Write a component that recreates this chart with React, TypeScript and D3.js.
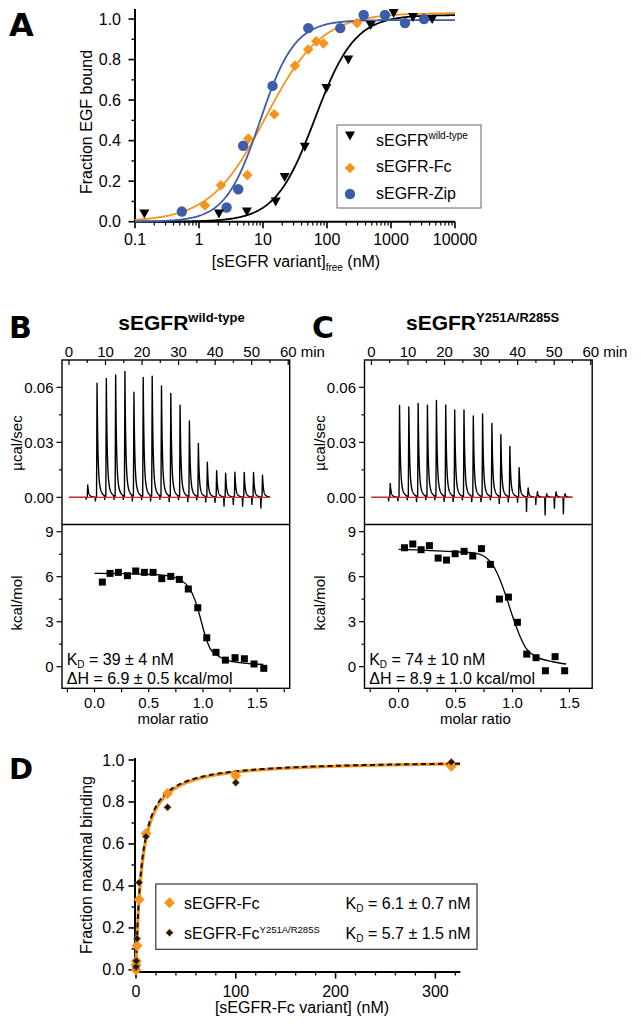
import React from 'react';
import * as d3 from 'd3';

const FONT = '"Liberation Sans", Arial, Helvetica, sans-serif';
const LETTER_FONT = '"DejaVu Sans", "Liberation Sans", Arial, sans-serif';
const ORANGE = '#F7941E';
const BLUE = '#3D5CAA';
const RED = '#E3262B';

// ---------------- Panel A data ----------------
const aXTicks = [0.1, 1, 10, 100, 1000, 10000];
const aXTickLabels = ['0.1', '1', '10', '100', '1000', '10000'];
const aYTicks = [0, 0.2, 0.4, 0.6, 0.8, 1.0];
const wtConc = [0.14, 2.05, 5.6, 15.8, 21.8, 45, 98, 215, 482, 1100, 2200, 4400];
const wtBound = [0.04, 0.04, 0.05, 0.1, 0.22, 0.37, 0.66, 0.8, 0.97, 1.03, 1.01, 1.0];
const fcConc = [1.24, 2.2, 5.7, 5.9, 15, 31.6, 51, 68, 88, 295];
const fcBound = [0.08, 0.18, 0.23, 0.41, 0.53, 0.77, 0.85, 0.89, 0.88, 0.98];
const zipConc = [0.54, 2.7, 4.1, 4.9, 14.1, 51, 161, 374, 805, 1655, 3280];
const zipBound = [0.05, 0.07, 0.16, 0.375, 0.67, 0.955, 0.955, 1.02, 1.02, 0.98, 1.0];
// Hill fit parameters: [wild-type, Fc, Zip]
const fitKd = [65, 11, 9];
const fitHill = [1.4, 1.0, 1.6];
const fitTop = [1.02, 1.03, 0.995];
const aLegendNames = ['sEGFR', 'sEGFR-Fc', 'sEGFR-Zip'];

// ---------------- Panels B / C data ----------------
const injTime = [5.0, 7.55, 10.09, 12.64, 15.18, 17.64, 20.18, 22.64, 25.18, 27.73, 30.27, 32.82, 35.27, 37.73, 40.27, 42.73, 45.27, 47.82, 50.36, 52.82];
const bPeak = [0.0067, 0.0622, 0.0644, 0.0662, 0.0682, 0.0567, 0.0649, 0.0655, 0.0602, 0.0562, 0.0498, 0.0413, 0.0291, 0.0189, 0.0144, 0.0131, 0.0136, 0.0135, 0.0135, 0.012];
const bDip = [-0.001, -0.002, -0.002, -0.002, -0.002, -0.003, -0.002, -0.003, -0.002, -0.003, -0.002, -0.003, -0.002, -0.003, -0.003, -0.005, -0.004, -0.005, -0.004, -0.006];
const cPeak = [0.0076, 0.05, 0.0489, 0.0509, 0.0498, 0.0524, 0.05, 0.0473, 0.0473, 0.044, 0.0451, 0.04, 0.0338, 0.0275, 0.016, 0.005, 0.003, 0.002, 0.003, 0.002];
const cDip = [-0.002, -0.002, -0.002, -0.003, -0.002, -0.002, -0.003, -0.003, -0.002, -0.003, -0.003, -0.002, -0.004, -0.003, -0.003, -0.008, -0.004, -0.0096, -0.006, -0.009];

const bRatio = [0.072, 0.143, 0.22, 0.303, 0.38, 0.46, 0.54, 0.62, 0.703, 0.782, 0.865, 0.952, 1.035, 1.12, 1.207, 1.296, 1.382, 1.471, 1.561];
const bHeat = [5.64, 6.22, 6.29, 6.07, 6.38, 6.29, 6.29, 5.87, 6.02, 5.82, 5.18, 3.93, 1.93, 0.96, 0.44, 0.6, 0.53, 0.18, -0.11];
const bFitX = [0, 0.3, 0.512, 0.697, 0.789, 0.866, 0.927, 0.973, 1.019, 1.065, 1.127, 1.22, 1.342, 1.557];
const bFitY = [6.22, 6.2, 6.16, 6.04, 5.78, 5.33, 4.44, 3.33, 2.11, 1.22, 0.78, 0.44, 0.27, 0.15];

const cRatio = [0.051, 0.124, 0.197, 0.27, 0.347, 0.42, 0.496, 0.575, 0.651, 0.727, 0.806, 0.885, 0.964, 1.043, 1.125, 1.207, 1.289, 1.374, 1.458];
const cHeat = [7.93, 8.18, 7.8, 8.07, 7.24, 7.11, 7.53, 7.69, 7.38, 7.87, 6.82, 4.51, 4.64, 2.96, 0.84, 0.6, -0.27, 0.67, -0.27];
const cFitX = [0, 0.475, 0.68, 0.806, 0.885, 0.944, 1.002, 1.061, 1.119, 1.207, 1.353, 1.47];
const cFitY = [7.82, 7.67, 7.56, 7.0, 5.89, 4.67, 3.33, 2.11, 1.22, 0.67, 0.33, 0.18];

// ---------------- Panel D data ----------------
const dConc = [0, 0.1, 0.316, 1, 3.16, 10, 31.6, 100, 316];
const dFcBinding = [0.0, 0.024, 0.042, 0.115, 0.335, 0.65, 0.84, 0.925, 0.97];
const dMutBinding = [0.01, 0.016, 0.043, 0.149, 0.416, 0.635, 0.775, 0.892, 0.99];
const dKd = [6.1, 5.7];
const dKdText = ['6.1 \u00b1 0.7 nM', '5.7 \u00b1 1.5 nM'];
const dXTicks = [0, 100, 200, 300];
const dYTicks = [0, 0.2, 0.4, 0.6, 0.8, 1.0];

const hill = (x: number, kd: number, n: number, top: number) =>
  (top * Math.pow(x, n)) / (Math.pow(kd, n) + Math.pow(x, n));

const diamond = (cx: number, cy: number, r: number) =>
  `M${cx},${cy - r}L${cx + r},${cy}L${cx},${cy + r}L${cx - r},${cy}Z`;
const triDown = (cx: number, cy: number, r: number) =>
  `M${cx - r},${cy - r * 0.8}L${cx + r},${cy - r * 0.8}L${cx},${cy + r}Z`;

function PanelA() {
  const x = d3.scaleLog().domain([0.1, 10000]).range([135, 455]);
  const y = d3.scaleLinear().domain([0, 1.05]).range([221.7, 8.9]);
  const minor: number[] = [];
  [0.1, 1, 10, 100, 1000].forEach((d) => d3.range(2, 10).forEach((k) => minor.push(d * k)));
  const yMinor = d3.range(0.1, 1.01, 0.2);
  const samples = d3.range(-1, 4.0001, 0.02).map((e) => Math.pow(10, e));
  const line = d3.line<number>().x((d) => x(d));
  const colors = ['#000', ORANGE, BLUE];
  const fitPaths = [0, 1, 2].map((i) =>
    line.y((d) => y(hill(d, fitKd[i], fitHill[i], fitTop[i])))(samples) as string
  );
  return (
    <g>
      <text x={9} y={36} fontFamily={LETTER_FONT} fontWeight="bold" fontSize={32}>A</text>
      <line x1={135} x2={135} y1={8.9} y2={221.7} stroke="#000" strokeWidth={2} />
      <line x1={135} x2={455} y1={221.7} y2={221.7} stroke="#000" strokeWidth={2} />
      {aYTicks.map((t) => (
        <g key={'ay' + t}>
          <line x1={128.5} x2={135} y1={y(t)} y2={y(t)} stroke="#000" strokeWidth={1.6} />
          <text x={121} y={y(t) + 5.5} textAnchor="end" fontSize={16}>{t.toFixed(1)}</text>
        </g>
      ))}
      {yMinor.map((t) => (
        <line key={'aym' + t} x1={131.5} x2={135} y1={y(t)} y2={y(t)} stroke="#000" strokeWidth={1.4} />
      ))}
      {aXTicks.map((t, i) => (
        <g key={'ax' + t}>
          <line x1={x(t)} x2={x(t)} y1={221.7} y2={228.3} stroke="#000" strokeWidth={1.6} />
          <text x={x(t)} y={245} textAnchor="middle" fontSize={16}>{aXTickLabels[i]}</text>
        </g>
      ))}
      {minor.map((t) => (
        <line key={'axm' + t} x1={x(t)} x2={x(t)} y1={221.7} y2={225.5} stroke="#000" strokeWidth={1.2} />
      ))}
      <text transform="translate(91.5,122) rotate(-90)" textAnchor="middle" fontSize={16}>Fraction EGF bound</text>
      <text x={296} y={267} textAnchor="middle" fontSize={16}>
        [sEGFR variant]<tspan fontSize={10} dy={4}>free</tspan>
        <tspan dy={-4}> (nM)</tspan>
      </text>
      {fitPaths.map((p, i) => (
        <path key={'fit' + i} d={p} fill="none" stroke={colors[i]} strokeWidth={1.8} />
      ))}
      {fcConc.map((c, i) => (
        <path key={'fc' + i} d={diamond(x(c), y(fcBound[i]), 5.3)} fill={ORANGE} />
      ))}
      {zipConc.map((c, i) => (
        <circle key={'zip' + i} cx={x(c)} cy={y(zipBound[i])} r={5.2} fill={BLUE} />
      ))}
      {wtConc.map((c, i) => (
        <path key={'wt' + i} d={triDown(x(c), y(wtBound[i]), 5)} fill="#000" />
      ))}
      <rect x={337} y={125} width={144} height={83} fill="#fff" stroke="#666" strokeWidth={1} />
      <path d={triDown(350, 135.5, 5)} fill="#000" />
      <path d={diamond(350, 168, 5.3)} fill={ORANGE} />
      <circle cx={350} cy={194} r={5.2} fill={BLUE} />
      <text x={376} y={146} fontSize={16}>
        {aLegendNames[0]}<tspan fontSize={10} dy={-7}>wild-type</tspan>
      </text>
      <text x={376} y={171.7} fontSize={16}>{aLegendNames[1]}</text>
      <text x={376} y={199} fontSize={16}>{aLegendNames[2]}</text>
    </g>
  );
}

const itcTop = 360;
const itcMid = 524.5;
const itcBot = 688.3;

function thermogram(peaks: number[], dips: number[]) {
  const times = new Set<number>();
  for (let t = 0; t <= 55.0001; t += 0.03) times.add(+t.toFixed(3));
  injTime.forEach((ti) => {
    times.add(ti);
    times.add(+(ti + 0.14).toFixed(3));
    times.add(+(ti - 0.3).toFixed(3));
    times.add(+(ti - 0.4).toFixed(3));
    times.add(+(ti - 0.2).toFixed(3));
  });
  const ts = Array.from(times).sort((a, b) => a - b);
  return ts.map((t) => {
    let v = 0;
    injTime.forEach((ti, i) => {
      const dt = t - ti;
      if (dt >= 0 && dt < 0.14) v += (peaks[i] * dt) / 0.14;
      else if (dt >= 0.14)
        v += peaks[i] * (0.78 * Math.exp(-(dt - 0.14) / 0.22) + 0.22 * Math.exp(-(dt - 0.14) / 0.75));
      const dd = t - (ti - 0.3);
      if (Math.abs(dd) < 0.1) v += dips[i] * (1 - Math.abs(dd) / 0.1);
    });
    return [t, v] as [number, number];
  });
}

type ItcProps = {
  x0: number;
  x1: number;
  ratioMax: number;
  peaks: number[];
  dips: number[];
  ratio: number[];
  heat: number[];
  fitX: number[];
  fitY: number[];
  letter: string;
  letterX: number;
  titleX: number;
  sup: string;
  kd: string;
  dh: string;
  labelX: number;
};

function ItcPanel(p: ItcProps) {
  const tx = d3.scaleLinear().domain([-1.9, 60.4]).range([p.x0, p.x1]);
  const uy = d3.scaleLinear().domain([-0.0148, 0.0749]).range([itcMid, itcTop]);
  const ly = d3.scaleLinear().domain([-1.44, 9.48]).range([itcBot, itcMid]);
  const rx = d3.scaleLinear().domain([-0.3, p.ratioMax]).range([p.x0, p.x1]);
  const trace = d3.line<[number, number]>().x((d) => tx(d[0])).y((d) => uy(d[1]))(thermogram(p.peaks, p.dips)) as string;
  const fit = d3
    .line<number>()
    .curve(d3.curveMonotoneX)
    .x((d) => rx(d))
    .y((d, i) => ly(p.fitY[i]))(p.fitX) as string;
  const minutes = d3.range(0, 61, 5);
  const uTicks = [0, 0.015, 0.03, 0.045, 0.06];
  const lTicks = [0, 1.5, 3, 4.5, 6, 7.5, 9];
  const rTicks = d3.range(-0.25, p.ratioMax + 0.001, 0.25);
  return (
    <g>
      <text x={p.letterX} y={338.3} fontFamily={LETTER_FONT} fontWeight="bold" fontSize={30}>{p.letter}</text>
      <text x={p.titleX} y={330} fontWeight="bold" fontSize={21}>
        sEGFR<tspan fontSize={13} dy={-8.5}>{p.sup}</tspan>
      </text>
      {minutes.map((m) => (
        <line key={'tm' + m} x1={tx(m)} x2={tx(m)} y1={itcTop} y2={itcTop + (m % 10 === 0 ? 5 : 3)} stroke="#000" strokeWidth={1.2} />
      ))}
      {minutes
        .filter((m) => m % 10 === 0 && m < 60)
        .map((m) => (
          <text key={'tl' + m} x={tx(m)} y={356.5} textAnchor="middle" fontSize={15}>{m}</text>
        ))}
      <text x={tx(60) - 8.3} y={356.5} fontSize={15}>60 min</text>
      {uTicks.map((v, i) => (
        <line key={'ut' + v} x1={p.x0 - (i % 2 === 0 ? 5.5 : 3)} x2={p.x0} y1={uy(v)} y2={uy(v)} stroke="#000" strokeWidth={1.2} />
      ))}
      {uTicks
        .filter((v, i) => i % 2 === 0)
        .map((v) => (
          <text key={'ul' + v} x={p.x0 - 8.5} y={uy(v) + 5.2} textAnchor="end" fontSize={15}>{v.toFixed(2)}</text>
        ))}
      <text transform={`translate(${p.labelX},443) rotate(-90)`} textAnchor="middle" fontSize={15}>µcal/sec</text>
      {lTicks.map((v, i) => (
        <line key={'lt' + v} x1={p.x0 - (i % 2 === 0 ? 5.5 : 3)} x2={p.x0} y1={ly(v)} y2={ly(v)} stroke="#000" strokeWidth={1.2} />
      ))}
      {lTicks
        .filter((v, i) => i % 2 === 0)
        .map((v) => (
          <text key={'ll' + v} x={p.x0 - 8.5} y={ly(v) + 5.2} textAnchor="end" fontSize={15}>{v}</text>
        ))}
      <text transform={`translate(${p.labelX},603) rotate(-90)`} textAnchor="middle" fontSize={15}>kcal/mol</text>
      {rTicks.map((v) => (
        <line key={'rt' + v} x1={rx(v)} x2={rx(v)} y1={itcBot} y2={itcBot + 4} stroke="#000" strokeWidth={1.2} />
      ))}
      {rTicks
        .filter((v) => Math.abs(v * 2 - Math.round(v * 2)) < 1e-6 && v >= 0)
        .map((v) => (
          <text key={'rl' + v} x={rx(v)} y={708.3} textAnchor="middle" fontSize={15}>{v.toFixed(1)}</text>
        ))}
      <text x={(p.x0 + p.x1) / 2 - 3} y={724} textAnchor="middle" fontSize={15}>molar ratio</text>
      <path d={trace} fill="none" stroke="#000" strokeWidth={1.4} strokeLinejoin="round" />
      <line x1={tx(0)} x2={tx(55)} y1={uy(0)} y2={uy(0)} stroke={RED} strokeWidth={1.3} />
      <path d={fit} fill="none" stroke="#000" strokeWidth={1.3} />
      {p.ratio.map((r, i) => (
        <rect key={'sq' + i} x={rx(r) - 3.5} y={ly(p.heat[i]) - 3.5} width={7} height={7} fill="#000" />
      ))}
      <text x={p.x0 + 4.7} y={665} fontSize={16}>
        K<tspan fontSize={10} dy={3}>D</tspan>
        <tspan dy={-3}>{' = ' + p.kd}</tspan>
      </text>
      <text x={p.x0 + 4.7} y={683.5} fontSize={16}>{'\u0394H = ' + p.dh}</text>
      <rect x={p.x0} y={itcTop} width={p.x1 - p.x0} height={itcBot - itcTop} fill="none" stroke="#000" strokeWidth={1.4} />
      <line x1={p.x0} x2={p.x1} y1={itcMid} y2={itcMid} stroke="#000" strokeWidth={1.4} />
    </g>
  );
}

function PanelD() {
  const x = d3.scaleLinear().domain([-1, 325]).range([135, 460.3]);
  const y = d3.scaleLinear().domain([-0.01, 1.0]).range([972, 760]);
  const xs = d3.range(0, 325.01, 0.5);
  const fcLine = d3.line<number>().x((d) => x(d)).y((d) => y(hill(d, dKd[0], 1, 1)))(xs) as string;
  const mutLine = d3.line<number>().x((d) => x(d)).y((d) => y(hill(d, dKd[1], 1, 1)))(xs) as string;
  const xMinor = d3.range(20, 321, 20).filter((v) => v % 100 !== 0);
  const yMinor = [0.1, 0.3, 0.5, 0.7, 0.9];
  return (
    <g>
      <text x={9} y={779.3} fontFamily={LETTER_FONT} fontWeight="bold" fontSize={29}>D</text>
      <line x1={135} x2={135} y1={758} y2={972} stroke="#000" strokeWidth={2} />
      <line x1={135} x2={460.3} y1={972} y2={972} stroke="#000" strokeWidth={2} />
      {dYTicks.map((t) => (
        <g key={'dy' + t}>
          <line x1={128.5} x2={135} y1={y(t)} y2={y(t)} stroke="#000" strokeWidth={1.6} />
          <text x={124.5} y={y(t) + 5.5} textAnchor="end" fontSize={16}>{t.toFixed(1)}</text>
        </g>
      ))}
      {yMinor.map((t) => (
        <line key={'dym' + t} x1={131.5} x2={135} y1={y(t)} y2={y(t)} stroke="#000" strokeWidth={1.4} />
      ))}
      {dXTicks.map((t) => (
        <g key={'dx' + t}>
          <line x1={x(t)} x2={x(t)} y1={972} y2={978.5} stroke="#000" strokeWidth={1.6} />
          <text x={x(t)} y={996.5} textAnchor="middle" fontSize={16}>{t}</text>
        </g>
      ))}
      {xMinor.map((t) => (
        <line key={'dxm' + t} x1={x(t)} x2={x(t)} y1={972} y2={975.5} stroke="#000" strokeWidth={1.3} />
      ))}
      <text transform="translate(92,865) rotate(-90)" textAnchor="middle" fontSize={16}>Fraction maximal binding</text>
      <text x={302} y={1013} textAnchor="middle" fontSize={16}>[sEGFR-Fc variant] (nM)</text>
      <path d={fcLine} fill="none" stroke={ORANGE} strokeWidth={3.2} />
      <path d={mutLine} fill="none" stroke="#111" strokeWidth={2} strokeDasharray="5,3.5" />
      {dConc.map((c, i) => (
        <path key={'dfc' + i} d={diamond(x(c), y(dFcBinding[i]), 5.5)} fill={ORANGE} />
      ))}
      {dConc.map((c, i) => (
        <path key={'dmut' + i} d={diamond(x(c), y(dMutBinding[i]), 3.8)} fill="#1a1a1a" stroke={ORANGE} strokeWidth={0.7} />
      ))}
      <rect x={155.8} y={884} width={321.2} height={65.3} fill="#fff" stroke="#333" strokeWidth={1.2} />
      <path d={diamond(169.5, 902.7, 5.5)} fill={ORANGE} />
      <path d={diamond(169.5, 932.7, 3.8)} fill="#1a1a1a" stroke={ORANGE} strokeWidth={0.7} />
      <text x={184} y={909} fontSize={16}>sEGFR-Fc</text>
      <text x={184} y={939} fontSize={16}>
        sEGFR-Fc<tspan fontSize={9.5} dy={-6}>Y251A/R285S</tspan>
      </text>
      {dKdText.map((t, i) => (
        <text key={'kd' + i} x={345.6} y={909 + i * 30} fontSize={16}>
          K<tspan fontSize={10} dy={3}>D</tspan>
          <tspan dy={-3}>{' = ' + t}</tspan>
        </text>
      ))}
    </g>
  );
}

export default function App() {
  return (
    <svg
      width={641}
      height={1027}
      viewBox="0 0 641 1027"
      style={{ position: 'absolute', left: 0, top: 0, background: '#fff' }}
      fontFamily={FONT}
    >
      <rect x={0} y={0} width={641} height={1027} fill="#fff" />
      <PanelA />
      <ItcPanel
        x0={62}
        x1={289.7}
        ratioMax={1.8}
        peaks={bPeak}
        dips={bDip}
        ratio={bRatio}
        heat={bHeat}
        fitX={bFitX}
        fitY={bFitY}
        letter="B"
        letterX={9}
        titleX={118.3}
        sup="wild-type"
        kd="39 ± 4 nM"
        dh="6.9 ± 0.5 kcal/mol"
        labelX={22}
      />
      <ItcPanel
        x0={364.5}
        x1={592.2}
        ratioMax={1.7}
        peaks={cPeak}
        dips={cDip}
        ratio={cRatio}
        heat={cHeat}
        fitX={cFitX}
        fitY={cFitY}
        letter="C"
        letterX={312}
        titleX={406}
        sup="Y251A/R285S"
        kd="74 ± 10 nM"
        dh="8.9 ± 1.0 kcal/mol"
        labelX={325}
      />
      <PanelD />
    </svg>
  );
}
